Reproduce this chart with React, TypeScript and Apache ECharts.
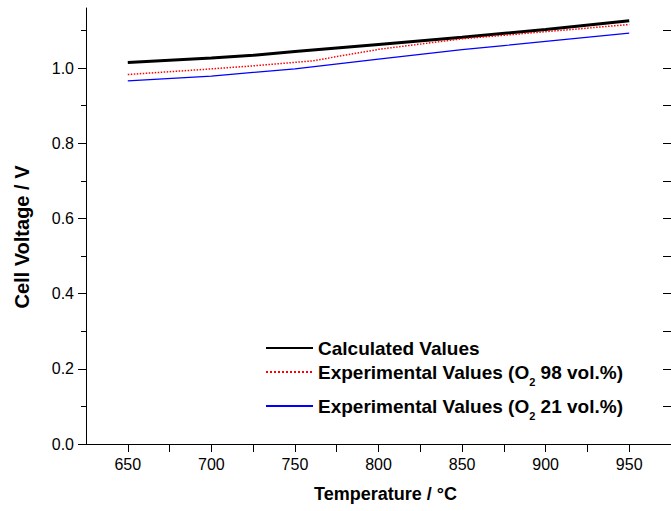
import React, { useEffect, useRef } from "react";
import * as echarts from "echarts";

// Data
const tempsCalc = [650, 700, 725, 750, 800, 850, 900, 950];
const calculatedValues = [1.015, 1.027, 1.034, 1.044, 1.063, 1.082, 1.103, 1.126];

const tempsO98 = [650, 700, 725, 760, 800, 850, 900, 950];
const expO98Values = [0.983, 0.998, 1.006, 1.019, 1.05, 1.078, 1.097, 1.116];

const tempsO21 = [650, 700, 750, 800, 850, 875, 900, 950];
const expO21Values = [0.966, 0.979, 0.998, 1.024, 1.049, 1.06, 1.071, 1.093];

const xMajorTicks = [650, 700, 750, 800, 850, 900, 950];
const xMinorTicks = [675, 725, 775, 825, 875, 925];
const xTopTicks = [650, 675, 700, 725, 750, 775, 800, 825, 850, 875, 900, 925, 950];
const yMajorTicks = [0, 0.2, 0.4, 0.6, 0.8, 1.0];
const yMinorTicks = [0.1, 0.3, 0.5, 0.7, 0.9, 1.1];
const yRightTicks = [0, 0.1, 0.2, 0.3, 0.4, 0.5, 0.6, 0.7, 0.8, 0.9, 1.0, 1.1];

const seriesNames = [
  "Calculated Values",
  "Experimental Values (O2 98 vol.%)",
  "Experimental Values (O2 21 vol.%)",
];

const FONT = "'Liberation Sans', Arial, sans-serif";

const pairs = (xs: number[], ys: number[]) => xs.map((x, i) => [x, ys[i]]);

export default function App() {
  const ref = useRef<HTMLDivElement>(null);
  useEffect(() => {
    if (!ref.current) return;
    const chart = echarts.init(ref.current, undefined, { renderer: "svg" });
    const XMIN = 625;
    const XMAX = 975;
    const YMIN = 0;
    const YMAX = 1.16;
    const lineColor = "#000";

    const legendRich = {
      b: { fontSize: 19, fontWeight: "bold", fontFamily: FONT, color: "#000", verticalAlign: "middle" },
      sub: { fontSize: 11, fontWeight: "bold", fontFamily: FONT, color: "#000", verticalAlign: "middle", lineHeight: 11, padding: [19, 0, 0, 0] },
    };
    const legendFormatter = (name: string) => {
      const idx = name.indexOf("O2");
      if (idx < 0) return `{b|${name}}`;
      return `{b|${name.slice(0, idx + 1)}}{sub|2}{b|${name.slice(idx + 2)}}`;
    };
    const mkLegend = (name: string, top: number) => ({
      data: [name],
      left: 265,
      top,
      padding: 0,
      itemWidth: 47,
      itemHeight: 14,
      itemGap: 0,
      selectedMode: false,
      itemStyle: { opacity: 0, borderWidth: 0 },
      formatter: legendFormatter,
      textStyle: { fontSize: 19, fontWeight: "bold", fontFamily: FONT, color: "#000", rich: legendRich },
    });

    chart.setOption({
      animation: false,
      backgroundColor: "#fff",
      textStyle: { fontFamily: FONT },
      grid: { left: 86, top: 8, width: 588, height: 436, containLabel: false },
      legend: [
        mkLegend(seriesNames[0], 338.5),
        mkLegend(seriesNames[1], 357),
        mkLegend(seriesNames[2], 391),
      ],
      xAxis: [
        {
          type: "value",
          position: "bottom",
          min: XMIN,
          max: XMAX,
          name: "Temperature / °C",
          nameLocation: "middle",
          nameGap: 41,
          nameTextStyle: { fontSize: 18, fontWeight: "bold", color: "#000", fontFamily: FONT, padding: [0, 0, 0, 14] },
          axisLine: { show: true, lineStyle: { color: lineColor, width: 1 } },
          axisTick: { show: true, inside: false, length: 8, customValues: xMajorTicks, lineStyle: { color: lineColor } },
          axisLabel: { customValues: xMajorTicks, fontSize: 16, color: "#000", margin: 12, fontFamily: FONT },
          splitLine: { show: false },
        },
        {
          type: "value",
          position: "bottom",
          min: XMIN,
          max: XMAX,
          axisLine: { show: false },
          axisTick: { show: true, inside: false, length: 5, customValues: xMinorTicks, lineStyle: { color: lineColor } },
          axisLabel: { show: false },
          splitLine: { show: false },
        },
        {
          type: "value",
          position: "top",
          min: XMIN,
          max: XMAX,
          axisLine: { show: true, lineStyle: { color: lineColor, width: 1 } },
          axisTick: { show: true, inside: true, length: 8, customValues: xTopTicks, lineStyle: { color: lineColor } },
          axisLabel: { show: false },
          splitLine: { show: false },
        },
      ],
      yAxis: [
        {
          type: "value",
          position: "left",
          min: YMIN,
          max: YMAX,
          name: "Cell Voltage / V",
          nameLocation: "middle",
          nameGap: 54,
          nameTextStyle: { fontSize: 20, fontWeight: "bold", color: "#000", fontFamily: FONT, padding: [0, 22, 0, 0] },
          axisLine: { show: true, lineStyle: { color: lineColor, width: 1 } },
          axisTick: { show: true, inside: false, length: 8, customValues: yMajorTicks, lineStyle: { color: lineColor } },
          axisLabel: {
            customValues: yMajorTicks,
            fontSize: 16,
            color: "#000",
            margin: 12,
            fontFamily: FONT,
            formatter: (v: number) => v.toFixed(1),
          },
          splitLine: { show: false },
        },
        {
          type: "value",
          position: "left",
          min: YMIN,
          max: YMAX,
          axisLine: { show: false },
          axisTick: { show: true, inside: false, length: 5, customValues: yMinorTicks, lineStyle: { color: lineColor } },
          axisLabel: { show: false },
          splitLine: { show: false },
        },
        {
          type: "value",
          position: "right",
          min: YMIN,
          max: YMAX,
          axisLine: { show: true, lineStyle: { color: lineColor, width: 1 } },
          axisTick: { show: true, inside: true, length: 8, customValues: yRightTicks, lineStyle: { color: lineColor } },
          axisLabel: { show: false },
          splitLine: { show: false },
        },
      ],
      series: [
        {
          name: seriesNames[0],
          type: "line",
          xAxisIndex: 0,
          yAxisIndex: 0,
          symbol: "none",
          data: pairs(tempsCalc, calculatedValues),
          lineStyle: { color: "#000", width: 3 },
          itemStyle: { color: "#000" },
        },
        {
          name: seriesNames[1],
          type: "line",
          xAxisIndex: 0,
          yAxisIndex: 0,
          symbol: "none",
          data: pairs(tempsO98, expO98Values),
          lineStyle: { color: "#ff0000", width: 1.5, type: "dotted" },
          itemStyle: { color: "#ff0000" },
        },
        {
          name: seriesNames[2],
          type: "line",
          xAxisIndex: 0,
          yAxisIndex: 0,
          symbol: "none",
          data: pairs(tempsO21, expO21Values),
          lineStyle: { color: "#0000ff", width: 1.2 },
          itemStyle: { color: "#0000ff" },
        },
      ],
    });
    return () => chart.dispose();
  }, []);
  return (
    <div
      ref={ref}
      style={{ position: "fixed", left: 0, top: 0, width: 671, height: 511, background: "#fff" }}
    />
  );
}
